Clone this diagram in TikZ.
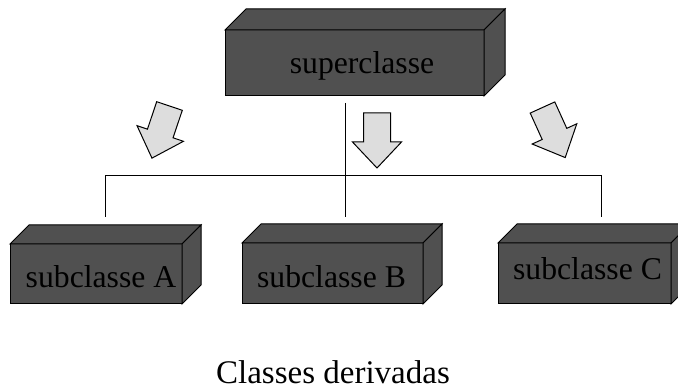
\documentclass[tikz,border=0pt]{standalone}
\usepackage{fontspec}
\setmainfont{Liberation Serif}
\definecolor{boxgray}{RGB}{80,80,80}
\definecolor{arrowgray}{RGB}{221,221,221}
\begin{document}
\begin{tikzpicture}[x=1pt,y=-1pt,line width=1pt,
  face/.style={draw=black,fill=boxgray,line join=miter,inner sep=0pt,outer sep=0pt},
  lbl/.style={font=\fontsize{31.7}{36}\selectfont,text=black,inner sep=0pt},
  conn/.style={draw=black,line width=1pt},
  arrowshape/.style={draw=black,fill=arrowgray,line join=miter,line width=1pt},
  fatarrow/.pic={\path[arrowshape] (-13.5,0) -- (13.5,0) -- (13.5,29) -- (24.5,29) -- (0,55) -- (-24.5,29) -- (-13.5,29) -- cycle;}]
\useasboundingbox (0,0) rectangle (678,390);

% superclass box
\node[face,minimum width=259pt,minimum height=66pt] (sup) at (354.5,63) {};
\path[face] (sup.north west) -- ([shift={(21,-21)}]sup.north west) -- ([shift={(21,-21)}]sup.north east) -- (sup.north east) -- cycle;
\path[face] (sup.north east) -- ([shift={(21,-21)}]sup.north east) -- ([shift={(21,-21)}]sup.south east) -- (sup.south east) -- cycle;
\node[lbl,anchor=base] (tsup) at (362,74) {superclasse};

% subclass boxes
\node[face,minimum width=172pt,minimum height=60pt] (subA) at (96,274) {};
\node[face,minimum width=181pt,minimum height=61pt] (subB) at (332.5,273.5) {};
\node[face,minimum width=173pt,minimum height=61pt] (subC) at (584.5,273.5) {};
\foreach \b in {subA,subB,subC}{
  \path[face] (\b.north west) -- ([shift={(19,-19)}]\b.north west) -- ([shift={(19,-19)}]\b.north east) -- (\b.north east) -- cycle;
  \path[face] (\b.north east) -- ([shift={(19,-19)}]\b.north east) -- ([shift={(19,-19)}]\b.south east) -- (\b.south east) -- cycle;
}
\node[lbl,anchor=base] (tA) at (101,288) {subclasse A};
\node[lbl,anchor=base] (tB) at (331.5,288) {subclasse B};
\node[lbl,anchor=base] (tC) at (587.5,280) {subclasse C};

% connectors
\coordinate (mt) at (345,103);
\coordinate (mb) at (345,217);
\coordinate (hl) at (105,176);
\coordinate (hr) at (601,176);
\coordinate (la) at (105,217);
\coordinate (ra) at (601,217);
\draw[conn] (la) -- (hl) -- (hr) -- (ra);
\draw[conn] (mt) -- (mb);

% arrows
\pic[rotate=-18.6] (arrL) at (169.5,106) {fatarrow};
\pic (arrM) at (377,113) {fatarrow};
\pic[rotate=24.4] (arrR) at (542.5,107.5) {fatarrow};

% caption
\node[lbl,anchor=base,font=\fontsize{33}{38}\selectfont] (cap) at (333,383) {Classes derivadas};
\end{tikzpicture}
\end{document}
